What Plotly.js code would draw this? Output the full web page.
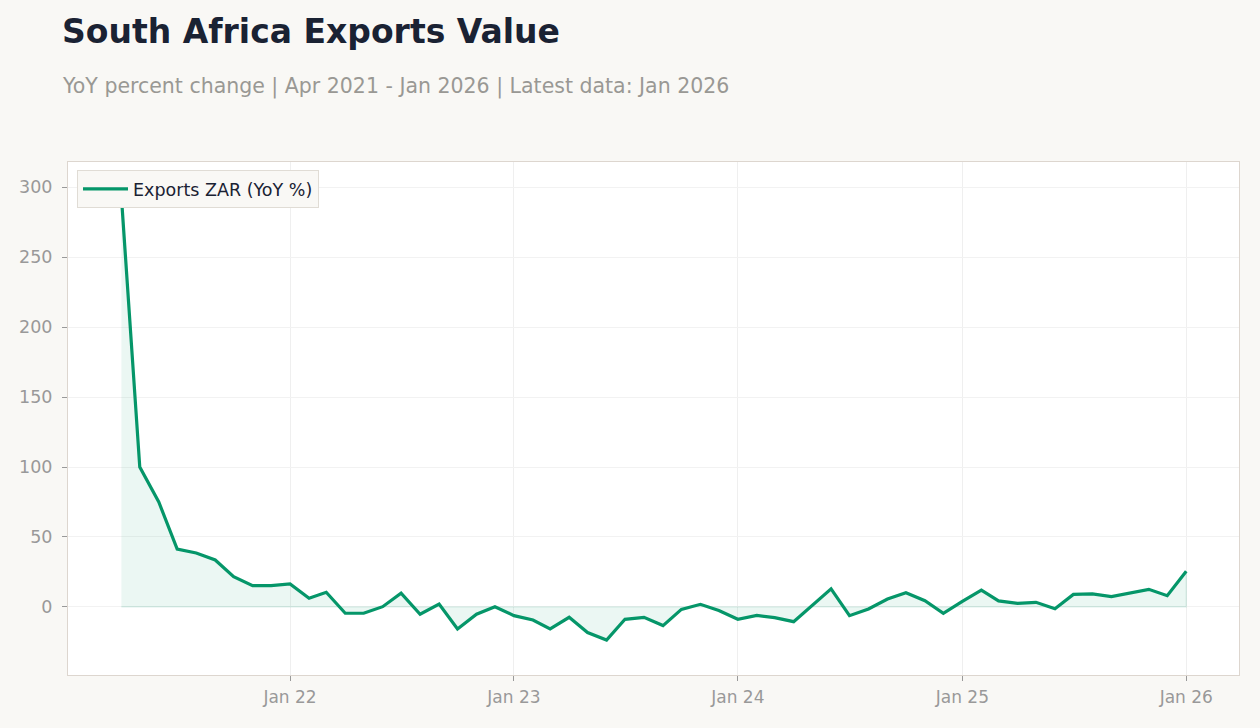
<!DOCTYPE html>
<html>
<head>
<meta charset="utf-8">
<script src="https://cdn.plot.ly/plotly-3.0.1.min.js"></script>
<style>html,body{margin:0;padding:0;background:#f9f8f5;}#chart{width:1260px;height:728px;}</style>
</head>
<body>
<div id="chart"></div>
<script>
const months = [
  "2021-04-01","2021-05-01","2021-06-01","2021-07-01","2021-08-01","2021-09-01","2021-10-01","2021-11-01","2021-12-01",
  "2022-01-01","2022-02-01","2022-03-01","2022-04-01","2022-05-01","2022-06-01","2022-07-01","2022-08-01","2022-09-01","2022-10-01","2022-11-01","2022-12-01",
  "2023-01-01","2023-02-01","2023-03-01","2023-04-01","2023-05-01","2023-06-01","2023-07-01","2023-08-01","2023-09-01","2023-10-01","2023-11-01","2023-12-01",
  "2024-01-01","2024-02-01","2024-03-01","2024-04-01","2024-05-01","2024-06-01","2024-07-01","2024-08-01","2024-09-01","2024-10-01","2024-11-01","2024-12-01",
  "2025-01-01","2025-02-01","2025-03-01","2025-04-01","2025-05-01","2025-06-01","2025-07-01","2025-08-01","2025-09-01","2025-10-01","2025-11-01","2025-12-01",
  "2026-01-01"
];
const exportsYoY = [
  293.5, 100.0, 75.0, 41.4, 38.6, 33.6, 21.7, 15.2, 15.2,
  16.4, 6.2, 10.5, -4.5, -4.5, 0.2, 9.8, -5.2, 2.1, -15.7, -5.2, 0.2,
  -6.2, -9.3, -15.7, -7.4, -18.3, -23.6, -8.8, -7.4, -13.3, -1.7, 1.9, -2.6,
  -8.8, -6.0, -7.6, -10.5, 1.0, 12.9, -6.2, -1.4, 5.7, 10.2, 4.5, -4.5,
  4.0, 12.1, 4.3, 2.6, 3.3, -1.2, 9.0, 9.3, 7.4, 9.8, 12.6, 8.1,
  25.5
];
const xTickVals = ["2022-01-01","2023-01-01","2024-01-01","2025-01-01","2026-01-01"];
const xTickText = ["Jan 22","Jan 23","Jan 24","Jan 25","Jan 26"];
const yTickVals = [0, 50, 100, 150, 200, 250, 300];

const lineColor = "#059669";
const font = "DejaVu Sans, sans-serif";

// Shaded area between the series and zero (closed polygon built from data)
const fillX = months.concat(months.slice().reverse());
const fillY = exportsYoY.concat(months.map(() => 0));

const traces = [
  {
    x: fillX, y: fillY, type: "scatter", mode: "lines",
    fill: "toself", fillcolor: "rgba(5,150,105,0.08)",
    line: {color: "rgba(5,150,105,0.13)", width: 1.2},
    hoverinfo: "skip", showlegend: false
  },
  {
    x: months, y: exportsYoY, type: "scatter", mode: "lines",
    name: "Exports ZAR (YoY %)",
    line: {color: lineColor, width: 3.2}
  }
];

const layout = {
  width: 1260, height: 728,
  paper_bgcolor: "#f9f8f5",
  plot_bgcolor: "#ffffff",
  margin: {l: 68, r: 21, t: 162, b: 53},
  font: {family: font, color: "#999999", size: 17},
  title: {
    text: "<b>South Africa Exports Value</b>",
    font: {family: font, size: 33, color: "#1a2233"},
    xref: "container", x: 62/1260, xanchor: "left",
    yref: "container", y: 1 - 31/728, yanchor: "middle"
  },
  annotations: [{
    text: "YoY percent change | Apr 2021 - Jan 2026 | Latest data: Jan 2026",
    xref: "paper", yref: "paper",
    x: -8/1171, xanchor: "left",
    y: (675 - 86)/513, yanchor: "middle",
    showarrow: false,
    font: {family: font, size: 20.5, color: "#999894"}
  }],
  xaxis: {
    type: "date",
    range: ["2021-01-04", "2026-03-28"],
    tickvals: xTickVals, ticktext: xTickText,
    showgrid: true, gridcolor: "#efefef", gridwidth: 1,
    ticks: "outside", ticklen: 5, tickcolor: "#999999",
    ticklabelstandoff: 2,
    showline: true, linecolor: "#ddd6cf", linewidth: 1, mirror: true,
    zeroline: false,
    tickfont: {family: font, size: 17, color: "#999999"}
  },
  yaxis: {
    range: [-48.6, 317.9],
    tickvals: yTickVals,
    showgrid: true, gridcolor: "#f2f2f2", gridwidth: 1,
    ticks: "outside", ticklen: 5, tickcolor: "#999999",
    ticklabelstandoff: 6,
    showline: true, linecolor: "#ddd6cf", linewidth: 1, mirror: true,
    zeroline: false,
    tickfont: {family: font, size: 17.5, color: "#999999"}
  },
  legend: {
    x: 9/1171, y: (675 - 170)/513, xanchor: "left", yanchor: "top",
    bgcolor: "#f9f8f5", bordercolor: "#e0dcd5", borderwidth: 1,
    itemwidth: 45,
    font: {family: font, size: 17.5, color: "#1a2233"}
  },
  showlegend: true
};

Plotly.newPlot("chart", traces, layout, {displayModeBar: false, staticPlot: true});
</script>
</body>
</html>
